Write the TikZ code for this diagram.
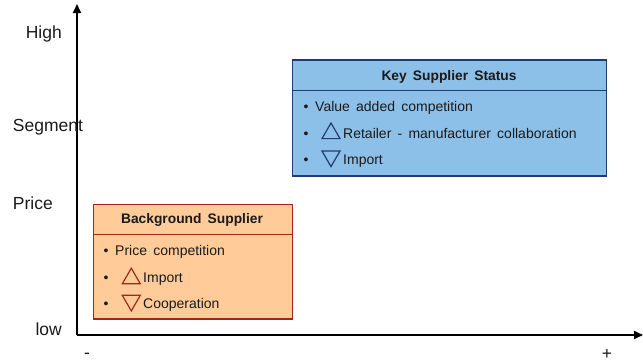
\documentclass[tikz,border=0pt]{standalone}
\usepackage{fontspec}
\setmainfont[WordSpace=1.6]{Liberation Sans}
\usetikzlibrary{arrows.meta,shapes.geometric}
\definecolor{keyfill}{HTML}{8DC0E9}
\definecolor{keyline}{HTML}{1F3C73}
\definecolor{bgfill}{HTML}{FFCC99}
\definecolor{bgline}{HTML}{A0281E}
\definecolor{ink}{HTML}{1A1A1A}
\tikzset{
  axisline/.style={line width=1.8pt, -{Triangle[length=9pt,width=8pt]}},
  axislabel/.style={font=\fontsize{17.5}{20}\selectfont, text=ink, inner sep=0pt},
  signlabel/.style={font=\fontsize{17.5}{20}\selectfont, text=ink, inner sep=0pt, anchor=base},
  keybox/.style={draw=keyline, fill=keyfill, line width=1.2pt, inner sep=0pt},
  bgbox/.style={draw=bgline, fill=bgfill, line width=1.2pt, inner sep=0pt},
  headtext/.style={font=\bfseries\fontsize{13.8}{16}\selectfont, text=ink, inner sep=0pt, anchor=base},
  itemtext/.style={font=\fontsize{14}{16}\selectfont, text=ink, inner sep=0pt, anchor=base west},
  bulletmark/.style={font=\fontsize{14}{16}\selectfont, text=ink, inner sep=0pt, anchor=base},
  tri/.style={regular polygon, regular polygon sides=3, minimum size=20.8pt, inner sep=0pt, line width=1.2pt}
}
\begin{document}
\begin{tikzpicture}[x=1pt,y=-1pt]
\useasboundingbox (0,0) rectangle (643,362);

% axes
\coordinate (origin) at (77,335);
\coordinate (ytop) at (77,4);
\coordinate (xend) at (643,335);
\draw[axisline] (origin) -- (ytop);
\draw[axisline] (origin) -- (xend);

% axis labels
\node[axislabel, anchor=base east] (high) at (62,38.3) {High};
\node[axislabel, anchor=base west] (segment) at (12.7,131.5) {Segment};
\node[axislabel, anchor=base west] (price) at (12.7,209.8) {Price};
\node[axislabel, anchor=base east] (low) at (62,335) {low};
\node[signlabel] (minus) at (87,358.5) {-};
\node[signlabel] (plus) at (607,359) {+};

% key supplier box
\node[keybox, minimum width=314pt, minimum height=30.7pt] (keyhead) at (449.7,75.35) {};
\node[keybox, minimum width=314pt, minimum height=85.3pt] (keybody) at (449.7,133.35) {};
\node[headtext] (keytitle) at (449,80.7) {Key Supplier Status};
\node[bulletmark] (kb1) at (306,111.5) {•};
\node[itemtext] (kt1) at (315,111.5) {Value added competition};
\node[bulletmark] (kb2) at (306,138.3) {•};
\node[tri, draw=keyline] (kup) at (331,133.4) {};
\node[itemtext] (kt2) at (343,138.3) {Retailer - manufacturer collaboration};
\node[bulletmark] (kb3) at (306,164.3) {•};
\node[tri, draw=keyline, shape border rotate=180] (kdown) at (331,156.2) {};
\node[itemtext] (kt3) at (343,164.3) {Import};

% background supplier box
\node[bgbox, minimum width=199.4pt, minimum height=30pt] (bghead) at (193,219.3) {};
\node[bgbox, minimum width=199.4pt, minimum height=84.7pt] (bgbody) at (193,276.65) {};
\node[headtext] (bgtitle) at (192,223.6) {Background Supplier};
\node[bulletmark] (bb1) at (106,255.7) {•};
\node[itemtext] (bt1) at (115,255.7) {Price competition};
\node[bulletmark] (bb2) at (106,282.3) {•};
\node[tri, draw=bgline] (bup) at (131.3,278.6) {};
\node[itemtext] (bt2) at (143,282.3) {Import};
\node[bulletmark] (bb3) at (106,308.3) {•};
\node[tri, draw=bgline, shape border rotate=180] (bdown) at (131.3,300.5) {};
\node[itemtext] (bt3) at (143,308.3) {Cooperation};
\end{tikzpicture}
\end{document}
